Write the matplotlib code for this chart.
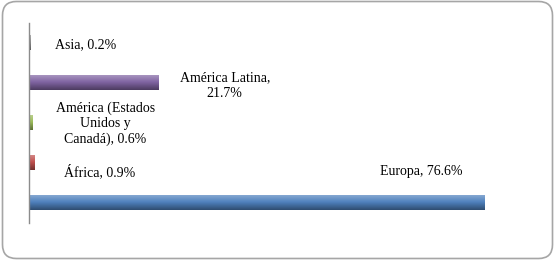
import matplotlib
matplotlib.use("Agg")
import matplotlib.pyplot as plt
import matplotlib.colors as mcolors
from matplotlib.patches import FancyBboxPatch
import numpy as np

regiones = ["Europa", "África", "América (Estados\nUnidos y\nCanadá)", "América Latina", "Asia"]
porcentajes = [76.6, 0.9, 0.6, 21.7, 0.2]
separador = [", ", ", ", ", ", ",\n", ", "]
colores = ["#4F81BD", "#C0504D", "#9BBB59", "#8064A2", "#8C8C8C"]
# posicion de las etiquetas (en unidades de datos)
etiqueta_x = [66.0, 11.8, 12.8, 32.9, 9.6]
etiqueta_y = [0.77, 0.77, 1.97, 2.93, 3.95]

plt.rcParams["font.family"] = ["Liberation Serif", "DejaVu Serif"]

fig = plt.figure(figsize=(5.55, 2.63), dpi=100)
marco = FancyBboxPatch((2.5 / 555, 4.5 / 263), 550 / 555, 257 / 263,
                       boxstyle="round,pad=0,rounding_size=0.025",
                       transform=fig.transFigure, facecolor="white",
                       edgecolor="#a6a6a6", linewidth=1.2,
                       mutation_aspect=555 / 263, zorder=-5)
fig.patches.append(marco)

ax = fig.add_axes([29 / 555, 40.3 / 263, 476 / 555, 200 / 263])
ax.patch.set_alpha(0)

pos = np.arange(len(regiones))
barras = ax.barh(pos, porcentajes, height=0.38, color=colores,
                 edgecolor="none")

# degradado vertical en cada barra
for b, c in zip(barras, colores):
    rgb = np.array(mcolors.to_rgb(c))
    claro = rgb + (1 - rgb) * 0.35
    oscuro = rgb * 0.6
    t = np.linspace(0, 1, 32)[:, None]
    arriba = np.clip(claro * (1 - t * 2) + rgb * (t * 2), 0, 1)
    abajo = np.clip(rgb * (1 - (t * 2 - 1)) + oscuro * (t * 2 - 1), 0, 1)
    grad = np.where(t < 0.5, arriba, abajo)[:, None, :]
    x0, y0 = b.get_x(), b.get_y()
    im = ax.imshow(grad, extent=[x0, x0 + b.get_width(), y0, y0 + b.get_height()],
                   aspect="auto", origin="upper", zorder=2)
    im.set_clip_path(b)

for nombre, v, sep, x, y in zip(regiones, porcentajes, separador,
                                etiqueta_x, etiqueta_y):
    ax.text(x, y, f"{nombre}{sep}{v}%", ha="center", va="center",
            fontsize=10, color="black", linespacing=1.25)

ax.set_xlim(0, 80)
ax.set_ylim(-0.5, 4.5)
for s in ["top", "right", "bottom"]:
    ax.spines[s].set_visible(False)
ax.spines["left"].set_color("#8c8c8c")
ax.spines["left"].set_linewidth(1.0)
ax.set_xticks([])
ax.set_yticks([])

fig.savefig("out.png", dpi=100)
